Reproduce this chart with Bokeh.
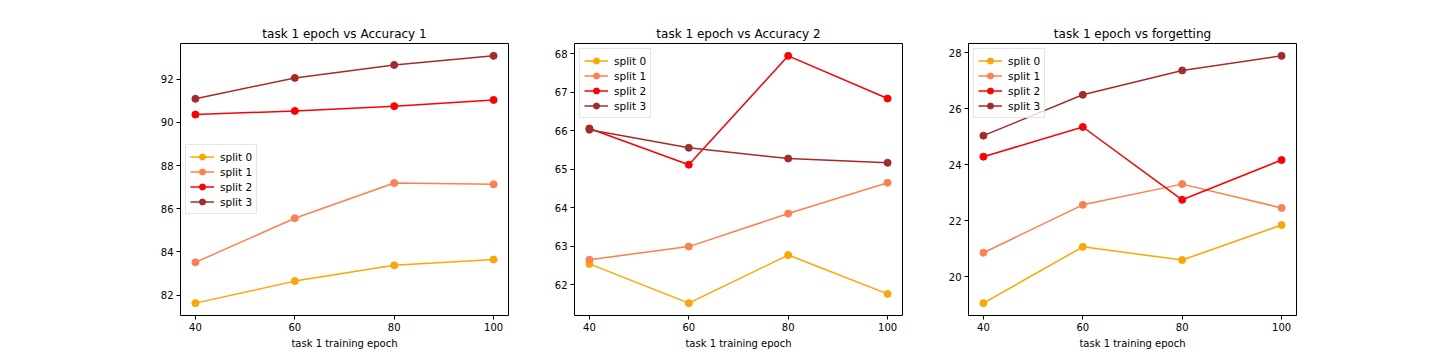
from bokeh.plotting import figure
from bokeh.layouts import row
from bokeh.models import FixedTicker, Range1d
from bokeh.embed import file_html
from bokeh.resources import INLINE

epochs = [40, 60, 80, 100]
split_names = ["split 0", "split 1", "split 2", "split 3"]
split_colors = ["#FFA500", "#FF7F50", "#FF0000", "#A52A2A"]

acc1_split0 = [81.63, 82.65, 83.38, 83.65]
acc1_split1 = [83.52, 85.56, 87.19, 87.13]
acc1_split2 = [90.36, 90.53, 90.75, 91.04]
acc1_split3 = [91.09, 92.06, 92.66, 93.08]

acc2_split0 = [62.54, 61.52, 62.77, 61.76]
acc2_split1 = [62.65, 62.99, 63.85, 64.65]
acc2_split2 = [66.06, 65.12, 67.95, 66.84]
acc2_split3 = [66.03, 65.56, 65.28, 65.17]

forg_split0 = [19.06, 21.07, 20.60, 21.85]
forg_split1 = [20.86, 22.57, 23.31, 22.46]
forg_split2 = [24.29, 25.35, 22.75, 24.17]
forg_split3 = [25.04, 26.50, 27.37, 27.89]

titles = ["task 1 epoch vs Accuracy 1", "task 1 epoch vs Accuracy 2", "task 1 epoch vs forgetting"]
xlabel = "task 1 training epoch"
y_ticks = [[82, 84, 86, 88, 90, 92], [62, 63, 64, 65, 66, 67, 68], [20, 22, 24, 26, 28]]
panels = [
    [acc1_split0, acc1_split1, acc1_split2, acc1_split3],
    [acc2_split0, acc2_split1, acc2_split2, acc2_split3],
    [forg_split0, forg_split1, forg_split2, forg_split3],
]
legend_locs = ["left", "top_left", "top_left"]
borders = [(180, 33), (33, 33), (33, 136)]

FONT = "DejaVu Sans"
figs = []
for i in range(3):
    series = panels[i]
    allv = [v for s in series for v in s]
    lo, hi = min(allv), max(allv)
    pad = (hi - lo) * 0.05
    p = figure(frame_width=328, frame_height=272, output_backend="svg", toolbar_location=None,
               x_range=Range1d(37, 103), y_range=Range1d(lo - pad, hi + pad),
               min_border_left=borders[i][0], min_border_right=borders[i][1],
               min_border_top=43, min_border_bottom=4)
    p.title.text = titles[i]
    p.title.align = "center"
    p.title.text_font = FONT
    p.title.text_font_size = "12px"
    p.title.text_font_style = "normal"
    p.title.text_color = "black"
    p.title.standoff = 6
    p.outline_line_color = "black"
    p.outline_line_width = 1
    p.xgrid.visible = False
    p.ygrid.visible = False
    for ax in [p.xaxis[0], p.yaxis[0]]:
        ax.axis_line_color = None
        ax.major_tick_in = 0
        ax.major_tick_out = 4
        ax.major_tick_line_color = "black"
        ax.minor_tick_line_color = None
        ax.major_label_text_font = FONT
        ax.major_label_text_font_size = "10px"
        ax.major_label_text_color = "black"
        ax.major_label_standoff = 3
    p.xaxis.ticker = FixedTicker(ticks=epochs)
    p.yaxis.ticker = FixedTicker(ticks=y_ticks[i])
    p.xaxis.axis_label = xlabel
    p.xaxis.axis_label_text_font = FONT
    p.xaxis.axis_label_text_font_size = "10px"
    p.xaxis.axis_label_text_font_style = "normal"
    p.xaxis.axis_label_text_color = "black"
    p.xaxis.axis_label_standoff = 4
    for s, name, col in zip(series, split_names, split_colors):
        p.line(epochs, s, line_color=col, line_width=1.5, legend_label=name)
        p.scatter(epochs, s, size=7, fill_color=col, line_color=col, legend_label=name)
    lg = p.legend[0]
    lg.location = legend_locs[i]
    lg.margin = 5
    lg.padding = 4
    lg.spacing = 0
    lg.label_text_font = FONT
    lg.label_text_font_size = "10.5px"
    lg.label_text_color = "black"
    lg.label_height = 15
    lg.glyph_height = 15
    lg.glyph_width = 24
    lg.label_standoff = 6
    lg.border_line_color = "#cccccc"
    lg.border_line_width = 1
    lg.background_fill_alpha = 0.8
    figs.append(p)

layout = row(*figs, spacing=0)
open("out.html", "w").write(file_html(layout, INLINE))
